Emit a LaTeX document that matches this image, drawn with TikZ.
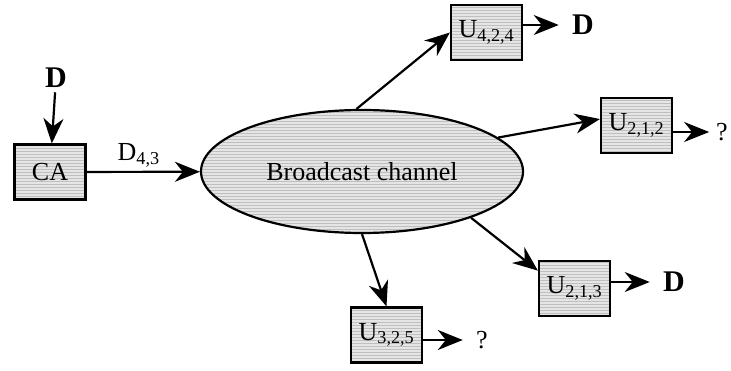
\documentclass[tikz,border=0pt]{standalone}
\usepackage{fontspec}
\setmainfont{Liberation Serif}
\usetikzlibrary{arrows.meta,patterns,shapes.geometric}

\begin{document}
\begin{tikzpicture}[x=1pt,y=-1pt,line width=2.2pt,>={Stealth[length=25pt,width=20pt,inset=8pt]},
    every node/.style={font=\fontsize{26}{30}\selectfont},
    big/.style={font=\fontsize{30}{34}\selectfont\bfseries},
    hatched/.style={preaction={fill=gray!20},pattern=horizontal lines,pattern color=gray!50},
    user node/.style={rectangle,draw,hatched,minimum width=71pt,minimum height=55pt,inner sep=0pt},
    out arrow/.style={->,shorten >=9pt}]
    \useasboundingbox (0,0) rectangle (731,371);

    \node[big] at (56,78) (din) {D};
    \node[user node] at (50,172) (ca) {CA};
    \node[ellipse,draw,hatched,minimum width=322pt,minimum height=123pt] at (362,171.5) (bc) {Broadcast channel};

    \node[user node] at (486.5,32.5) (u424) {U\textsubscript{4,2,4}};
    \node[user node] at (636.5,125.5) (u212) {U\textsubscript{2,1,2}};
    \node[user node] at (574.5,288.5) (u213) {U\textsubscript{2,1,3}};
    \node[user node] at (386.5,335) (u325) {U\textsubscript{3,2,5}};

    \node[big] at (583,25) (o424) {D};
    \node[inner sep=1pt] at (722,132) (o212) {?};
    \node[big] at (674,282) (o213) {D};
    \node at (482,340) (o325) {?};

    \draw[->] (din) -- (ca);
    \draw[->] (ca) -- node[above,pos=0.46] {D\textsubscript{4,3}} (bc);
    \draw[->] (bc.95) -- (u424.west);
    \draw[->] (bc.14) -- (u212.170);
    \draw[->] (bc.-23) -- (u213.154);
    \draw[->] (bc.south) -- (u325.north);

    \draw[out arrow] (u424.east |- o424) -- (o424);
    \draw[->,shorten >=5pt] (u212.east |- o212) -- (o212);
    \draw[out arrow] (u213.east |- o213) -- (o213);
    \draw[out arrow] (u325.east |- o325) -- (o325);
\end{tikzpicture}
\end{document}
